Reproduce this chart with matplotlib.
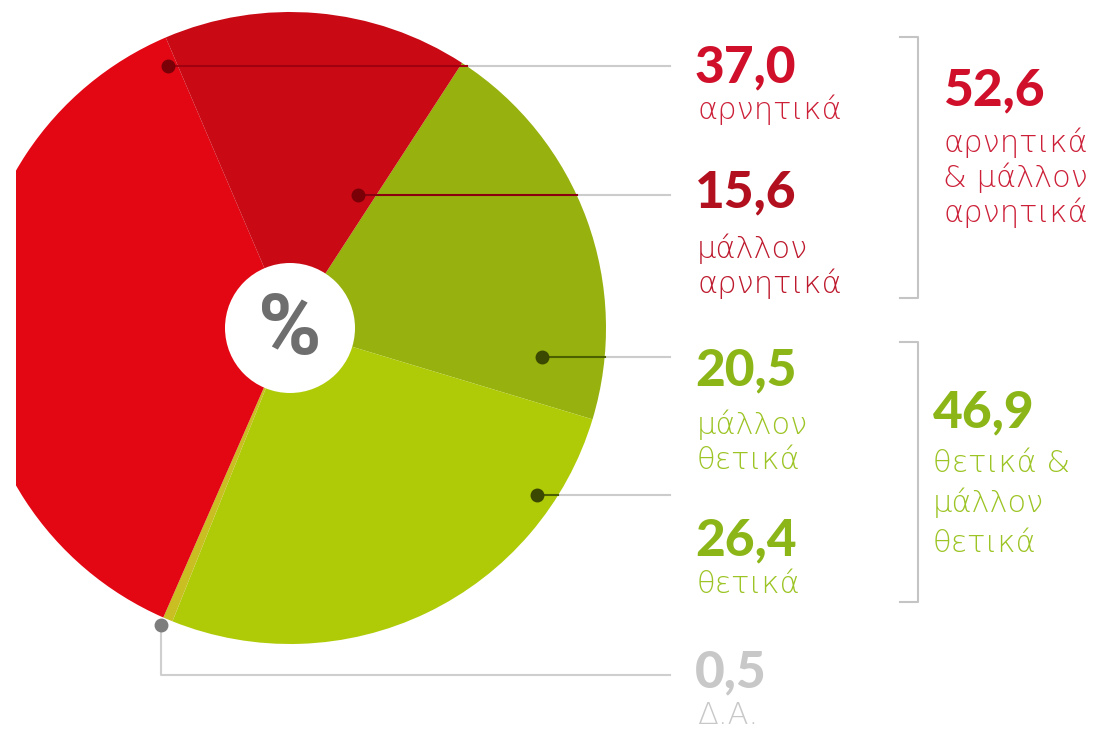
import numpy as np
import matplotlib.pyplot as plt
from matplotlib.patches import Circle

# ποσοστά απαντήσεων (%)
categories = ["αρνητικά", "μάλλον\nαρνητικά", "μάλλον\nθετικά", "θετικά", "Δ.Α."]
values = [37.0, 15.6, 20.5, 26.4, 0.5]
groups = ["αρνητικά\n& μάλλον\nαρνητικά", "θετικά &\nμάλλον\nθετικά"]
group_values = [52.6, 46.9]

slice_colors = ["#e30613", "#c90a15", "#97b10e", "#afcb08", "#c9bf22"]
num_colors = ["#d0102a", "#b3101f", "#8cb618", "#8cb618", "#c8c8c8"]
lab_colors = ["#cc2038", "#bd1a2e", "#9cc424", "#9cc424", "#c8c8c8"]
dot_colors = ["#7a0008", "#7a0008", "#3a4800", "#3a4800", "#7d7d7d"]
line_dark = ["#a00010", "#8a0010", "#4d6000", "#4d6000", "#c8c8c8"]

W, H = 1112, 735
cx, cy, r = 290, 328, 316
left = 16

fig = plt.figure(figsize=(W / 100, H / 100), dpi=100)
ax = fig.add_axes([left / W, 0, 1 - left / W, 1])

# clockwise from the top-right boundary: μάλλον θετικά, θετικά, Δ.Α., αρνητικά, μάλλον αρνητικά
order = [2, 3, 4, 0, 1]
# y axis is inverted below, so counterclock=True runs clockwise on screen
wedges, _ = ax.pie([values[i] for i in order], colors=[slice_colors[i] for i in order],
                   startangle=-57, counterclock=True, center=(cx, cy), radius=r,
                   wedgeprops=dict(linewidth=0), frame=True)
for w in wedges:
    w.set_clip_on(True)  # the pie is cut at the left edge
ax.set_xlim(left, W)
ax.set_ylim(H, 0)
ax.set_aspect("equal")
ax.axis("off")

# white centre with %
ax.add_patch(Circle((cx, cy), 65, facecolor="white", edgecolor="none", zorder=3))
ax.text(cx, cy + 2, "%", ha="center", va="center", fontsize=62, color="#6e6e6e",
        fontweight="bold", family=["Roboto", "DejaVu Sans"], zorder=4)

# leader lines and dots
dots = [(168, 66), (358, 195), (542, 357), (537, 495), (161, 625)]
line_end = 670
for i, (dx, dy) in enumerate(dots):
    if i == 4:
        ax.plot([dx, dx, line_end], [dy, 675, 675], color="#cfcfcf", lw=1.5, zorder=2)
    else:
        x_edge = cx + np.sqrt(r ** 2 - (dy - cy) ** 2)
        ax.plot([x_edge, line_end], [dy, dy], color="#cccccc", lw=1.5, zorder=2)
        ax.plot([dx, x_edge], [dy, dy], color=line_dark[i], lw=1.5, zorder=2)
    ax.plot(dx, dy, "o", ms=9, color=dot_colors[i], zorder=5)

num_font = dict(family=["Lato", "Roboto", "DejaVu Sans"], fontweight="black", fontsize=37)
lab_font = dict(family=["DejaVu Sans"], fontweight=200, fontsize=22)


def label(x, y, text, step, color):
    # one text per line so each baseline sits where the reference has it
    for k, line in enumerate(text.split("\n")):
        ax.text(x, y + k * step, line, color=color, ha="left", va="baseline", **lab_font)


num_y = [82, 207, 385, 555, 687]
lab_y = [119, 258, 434, 593, 724]
for i, v in enumerate(values):
    ax.text(695, num_y[i], f"{v:.1f}".replace(".", ","), color=num_colors[i],
            ha="left", va="baseline", **num_font)
    label(697, lab_y[i], categories[i], 35, lab_colors[i])

# brackets for the two groups
for y0, y1 in [(37, 298), (342, 602)]:
    ax.plot([900, 918, 918, 900], [y0, y0, y1, y1], color="#c4c4c4", lw=1.5)

gx = [943, 933]
gnum_y = [105, 427]
glab_y = [152, 472]
gstep = [35, 40]
for i, v in enumerate(group_values):
    c = 0 if i == 0 else 2
    ax.text(gx[i], gnum_y[i], f"{v:.1f}".replace(".", ","), color=num_colors[c],
            ha="left", va="baseline", **num_font)
    label(gx[i], glab_y[i], groups[i], gstep[i], lab_colors[c])

fig.savefig("out.png", dpi=100, facecolor="white")
